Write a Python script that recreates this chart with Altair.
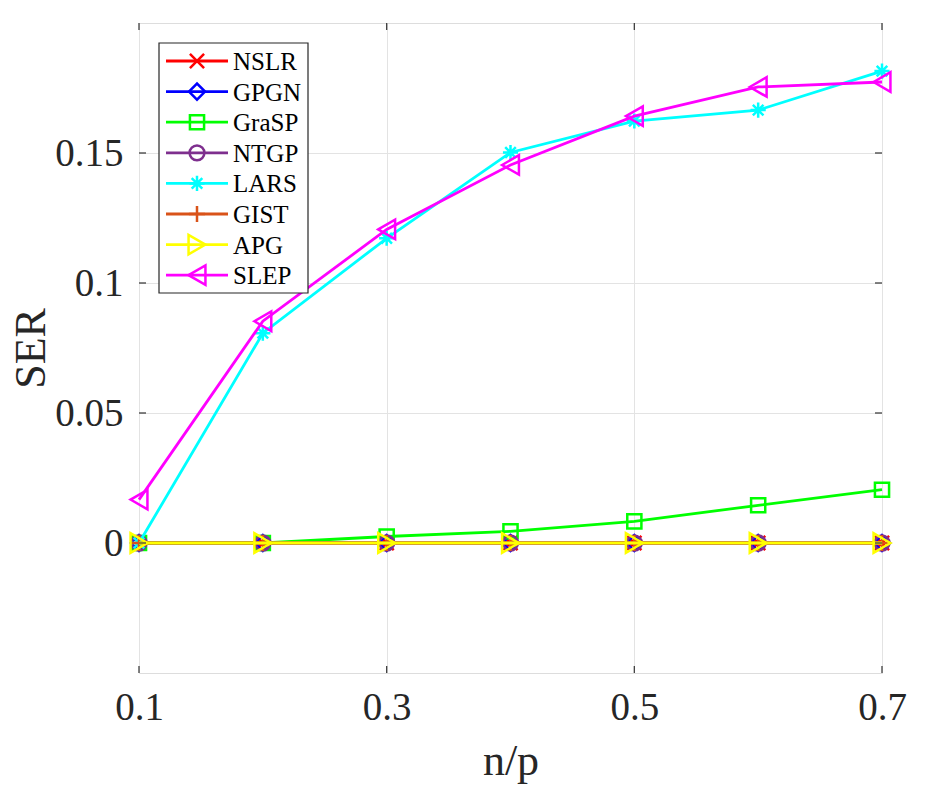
import altair as alt
import pandas as pd

# Sparsity ratio n/p on the horizontal axis
ratio = [0.1, 0.2, 0.3, 0.4, 0.5, 0.6, 0.7]

# SER of each algorithm
ser_nslr = [0, 0, 0, 0, 0, 0, 0]
ser_gpgn = [0, 0, 0, 0, 0, 0, 0]
ser_grasp = [0, 0, 0.0025, 0.0045, 0.0083, 0.0145, 0.0205]
ser_ntgp = [0, 0, 0, 0, 0, 0, 0]
ser_lars = [0, 0.0807, 0.1172, 0.1502, 0.1623, 0.1665, 0.1815]
ser_gist = [0, 0, 0, 0, 0, 0, 0]
ser_apg = [0, 0, 0, 0, 0, 0, 0]
ser_slep = [0.0167, 0.0853, 0.1206, 0.1454, 0.1642, 0.1754, 0.1773]

x_ticks = [0.1, 0.3, 0.5, 0.7]
y_ticks = [0, 0.05, 0.1, 0.15]

# vector marker outlines (unit box -1..1)
X_MARK = "M-1,-1L1,1M-1,1L1,-1"
PLUS_MARK = "M-1,0L1,0M0,-1L0,1"
STAR_MARK = "M-1,0L1,0M0,-1L0,1M-0.7,-0.7L0.7,0.7M-0.7,0.7L0.7,-0.7"

series = [
    ("NSLR", ser_nslr, "#ff0000", X_MARK, 200),
    ("GPGN", ser_gpgn, "#0000ff", "diamond", 260),
    ("GraSP", ser_grasp, "#00ff00", "square", 200),
    ("NTGP", ser_ntgp, "#7e2f8e", "circle", 220),
    ("LARS", ser_lars, "#00ffff", STAR_MARK, 230),
    ("GIST", ser_gist, "#d95319", PLUS_MARK, 260),
    ("APG", ser_apg, "#ffff00", "triangle-right", 380),
    ("SLEP", ser_slep, "#ff00ff", "triangle-left", 380),
]

W, H = 743, 650
FONT = "Liberation Serif"
TXT = "#262626"

x_scale = alt.Scale(domain=[0.1, 0.7], nice=False, zero=False)
y_scale = alt.Scale(domain=[-0.05, 0.2], nice=False, zero=False)

x_enc = alt.X(
    "ratio:Q", scale=x_scale, title="n/p",
    axis=alt.Axis(values=x_ticks, format=".1f", grid=True, domain=False, ticks=False,
                  labelFontSize=39, labelFont=FONT, labelColor=TXT, labelPadding=15,
                  titleFontSize=44, titleFont=FONT, titleColor=TXT, titleFontWeight="normal",
                  titlePadding=12, gridColor="#e3e3e3", gridWidth=1, labelFlush=False),
)
y_enc = alt.Y(
    "ser:Q", scale=y_scale, title="SER",
    axis=alt.Axis(values=y_ticks, format="~g", grid=True, domain=False, ticks=False,
                  labelFontSize=39, labelFont=FONT, labelColor=TXT, labelPadding=16,
                  titleFontSize=44, titleFont=FONT, titleColor=TXT, titleFontWeight="normal",
                  titleX=-86, titleY=H / 2, titleAngle=270, titleAlign="center",
                  titleBaseline="bottom",
                  gridColor="#e3e3e3", gridWidth=1, labelFlush=False),
)

layers = []
first = True
for name, vals, color, shape, size in series:
    df = pd.DataFrame({"ratio": ratio, "ser": vals})
    if first:
        xe, ye = x_enc, y_enc
        first = False
    else:
        xe = alt.X("ratio:Q", scale=x_scale)
        ye = alt.Y("ser:Q", scale=y_scale)
    base = alt.Chart(df)
    layers.append(base.mark_line(color=color, strokeWidth=2.8, clip=False).encode(x=xe, y=ye))
    layers.append(
        base.mark_point(shape=shape, size=size, filled=False, color=color, strokeWidth=2.5,
                        opacity=1, clip=False).encode(x=xe, y=ye)
    )

# inward tick marks on all four sides of the box
xt = alt.Chart(pd.DataFrame({"ratio": x_ticks}))
yt = alt.Chart(pd.DataFrame({"ser": y_ticks}))
tick_style = dict(color="#404040", strokeWidth=1.3)
layers.append(xt.mark_rule(**tick_style).encode(x=alt.X("ratio:Q", scale=x_scale), y=alt.value(H), y2=alt.value(H - 7)))
layers.append(xt.mark_rule(**tick_style).encode(x=alt.X("ratio:Q", scale=x_scale), y=alt.value(0), y2=alt.value(7)))
layers.append(yt.mark_rule(**tick_style).encode(y=alt.Y("ser:Q", scale=y_scale), x=alt.value(0), x2=alt.value(7)))
layers.append(yt.mark_rule(**tick_style).encode(y=alt.Y("ser:Q", scale=y_scale), x=alt.value(W), x2=alt.value(W - 7)))

# legend box in the upper-left corner
one = pd.DataFrame({"k": [0]})
LX0, LX1, LY0, LY1 = 20, 169, 20, 270
layers.append(
    alt.Chart(one).mark_rect(fill="white", stroke="#262626", strokeWidth=1.2).encode(
        x=alt.value(LX0), x2=alt.value(LX1), y=alt.value(LY0), y2=alt.value(LY1)
    )
)
for i, (name, vals, color, shape, size) in enumerate(series):
    ry = 38 + 30.6 * i
    row = alt.Chart(one)
    layers.append(row.mark_rule(color=color, strokeWidth=2.8).encode(
        x=alt.value(27), x2=alt.value(89), y=alt.value(ry)))
    layers.append(row.mark_point(shape=shape, size=size, filled=False, color=color,
                                 strokeWidth=2.5, opacity=1).encode(x=alt.value(58), y=alt.value(ry)))
    layers.append(row.mark_text(text=name, font=FONT, fontSize=25, color="black", align="left",
                                baseline="middle").encode(x=alt.value(94), y=alt.value(ry + 1)))

chart = (
    alt.layer(*layers)
    .properties(width=W, height=H, autosize=alt.AutoSizeParams(type="none"),
                padding={"left": 139, "top": 23, "right": 48, "bottom": 119})
    .configure_view(stroke="#404040", strokeWidth=1.3)
    .configure(background="white")
)

chart.save("out.html", embed_options={"renderer": "svg", "actions": False})
